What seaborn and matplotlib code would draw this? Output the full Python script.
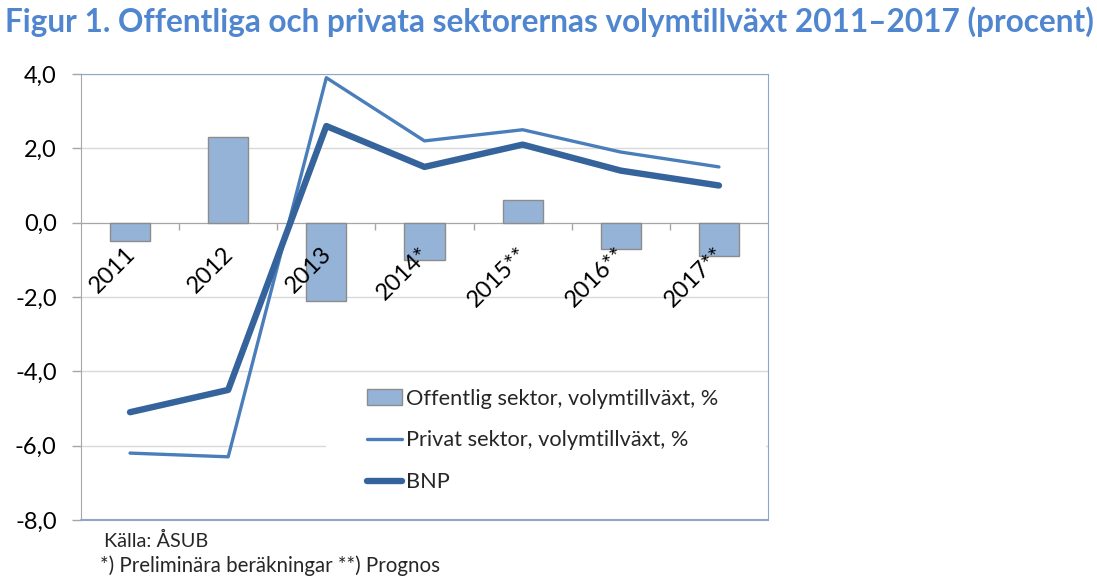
import numpy as np
import pandas as pd
import matplotlib
matplotlib.use("Agg")
import matplotlib.pyplot as plt
from matplotlib.patches import Rectangle
from matplotlib.ticker import FuncFormatter, FixedLocator
import seaborn as sns

# data
years = ["2011", "2012", "2013", "2014*", "2015**", "2016**", "2017**"]
offentlig = [-0.5, 2.3, -2.1, -1.0, 0.6, -0.7, -0.9]
privat = [-6.2, -6.3, 3.9, 2.2, 2.5, 1.9, 1.5]
bnp = [-5.1, -4.5, 2.6, 1.5, 2.1, 1.4, 1.0]

title = "Figur 1. Offentliga och privata sektorernas volymtillväxt 2011\u20132017 (procent)"
label_off = "Offentlig sektor, volymtillväxt, %"
label_priv = "Privat sektor, volymtillväxt, %"
label_bnp = "BNP"
source = "Källa: ÅSUB"
note = "*) Preliminära beräkningar **) Prognos"

df = pd.DataFrame({"year": years, "pos": np.arange(len(years)),
                   "offentlig": offentlig, "privat": privat, "bnp": bnp})

sns.set_style("white")
plt.rcParams["font.family"] = ["Lato", "DejaVu Sans"]

bar_color = "#95B3D7"
priv_color = "#4A7EBB"
bnp_color = "#35639B"
frame_color = "#8EA6CC"
grid_color = "#D9D9D9"
axis_gray = "#A6A6A6"

fig = plt.figure(figsize=(10.97, 5.79), dpi=100)
ax = fig.add_axes([0.0738, 0.1019, 0.6263, 0.7703])

sns.barplot(data=df, x="year", y="offentlig", color=bar_color, width=0.41,
            edgecolor="#8C8C8C", linewidth=1, saturation=1, ax=ax,
            label=label_off, zorder=2)
sns.lineplot(data=df, x="pos", y="privat", color=priv_color, linewidth=2.4,
             ax=ax, label=label_priv, zorder=3)
sns.lineplot(data=df, x="pos", y="bnp", color=bnp_color, linewidth=4.6,
             ax=ax, label=label_bnp, zorder=4, solid_capstyle="round")

ax.set_xlim(-0.5, len(years) - 0.5)
ax.set_ylim(-8, 4)
ax.set_xlabel("")
ax.set_ylabel("")

# y axis
ax.yaxis.set_major_locator(FixedLocator(np.arange(-8, 4.1, 2)))
ax.yaxis.set_major_formatter(FuncFormatter(lambda v, p: f"{v:.1f}".replace(".", ",")))
ax.tick_params(axis="y", which="major", left=True, length=6.5, width=1,
               color=axis_gray, pad=11, labelsize=17, labelcolor="black")
ax.grid(axis="y", color=grid_color, linewidth=1, zorder=0)
ax.set_axisbelow(True)

# category axis sits on the zero line
ax.spines["bottom"].set_position(("data", 0))
ax.spines["bottom"].set_color(axis_gray)
ax.spines["bottom"].set_zorder(1)
ax.spines["left"].set_color(axis_gray)
ax.spines["top"].set_color(frame_color)
ax.spines["right"].set_color(frame_color)
ax.axhline(-8, color=frame_color, linewidth=1.5, clip_on=False, zorder=5)
ax.xaxis.set_major_locator(FixedLocator(np.arange(len(years) - 1) + 0.5))
ax.tick_params(axis="x", bottom=True, length=5, width=1, color=axis_gray,
               labelbottom=False)
for i, lab in enumerate(years):
    ax.annotate(lab, xy=(i, 0), xytext=(-4, -15), textcoords="offset points",
                rotation=45, rotation_mode="anchor", ha="right", va="top",
                fontsize=17, color="black", annotation_clip=False)

# white area behind the legend, hides the gridline like the original
ax.add_patch(Rectangle((0.357, 0.012), 0.64, 0.3, transform=ax.transAxes,
                       facecolor="white", edgecolor="none", zorder=1.5))

handles, labels = ax.get_legend_handles_labels()
order = [labels.index(label_off), labels.index(label_priv), labels.index(label_bnp)]
leg = ax.legend([handles[k] for k in order], [labels[k] for k in order],
                loc="upper left", bbox_to_anchor=(0.398, 0.324),
                borderaxespad=0, frameon=True, fancybox=False,
                facecolor="white", edgecolor="none", framealpha=1,
                fontsize=15.7, handlelength=1.6, handletextpad=0.18,
                labelspacing=1.0, borderpad=0.6)
leg.set_zorder(6)

fig.text(0.005, 0.962, title, fontsize=22.7, fontweight="bold", color="#4F86CF",
         ha="left", va="center")
fig.text(0.095, 0.066, source, fontsize=14.3, ha="left", va="center")
fig.text(0.091, 0.023, note, fontsize=14.8, ha="left", va="center")

fig.savefig("out.png", dpi=100)
